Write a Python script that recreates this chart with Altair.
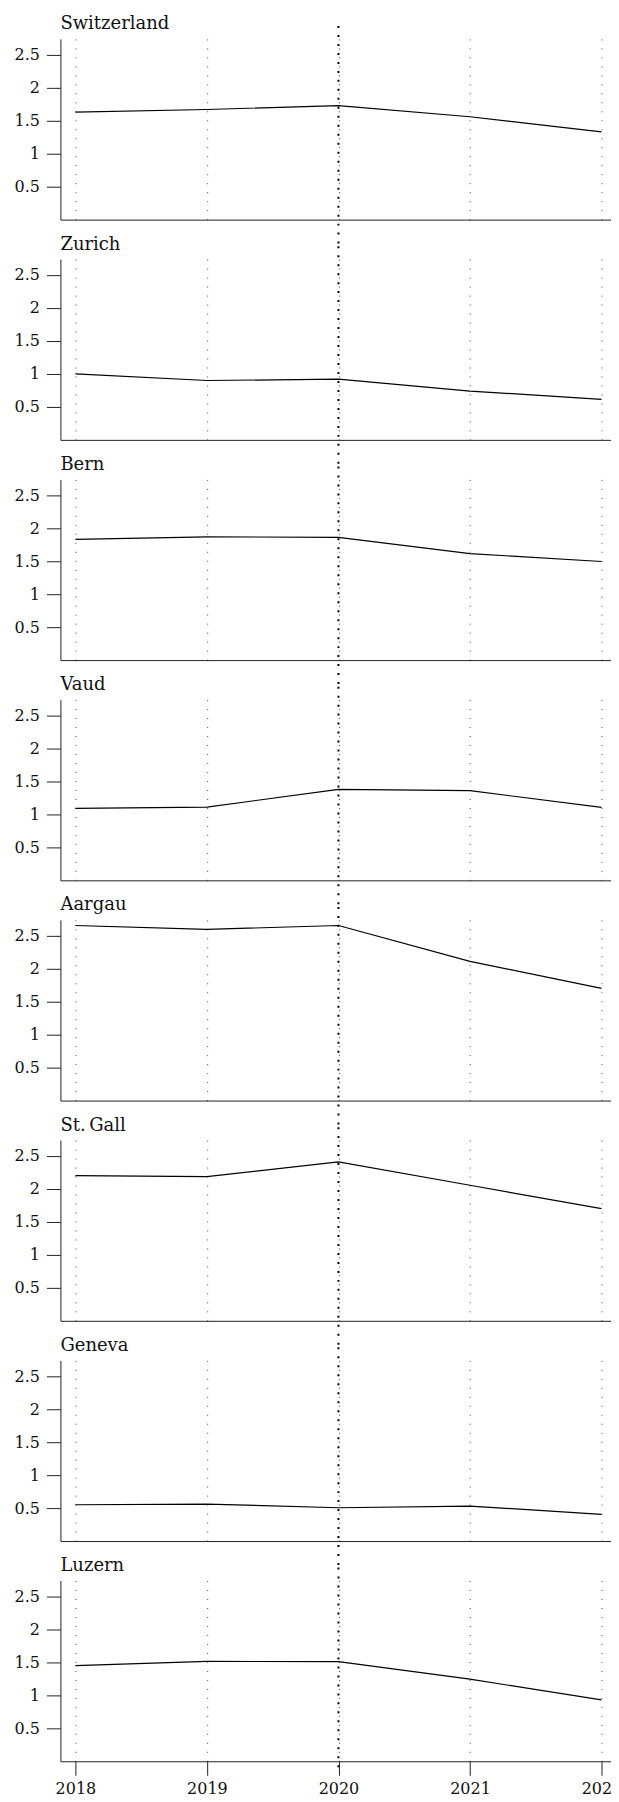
import altair as alt
import pandas as pd

years = [2018, 2019, 2020, 2021, 2022]
regions = ["Switzerland", "Zurich", "Bern", "Vaud", "Aargau", "St.\u2009Gall", "Geneva", "Luzern"]
switzerland = [1.63, 1.67, 1.73, 1.56, 1.33]
zurich = [1.00, 0.90, 0.92, 0.74, 0.615]
bern = [1.83, 1.87, 1.86, 1.615, 1.495]
vaud = [1.09, 1.11, 1.38, 1.36, 1.105]
aargau = [2.655, 2.595, 2.655, 2.11, 1.70]
st_gall = [2.20, 2.185, 2.41, 2.055, 1.70]
geneva = [0.55, 0.56, 0.505, 0.53, 0.405]
luzern = [1.45, 1.515, 1.51, 1.245, 0.93]
series = [switzerland, zurich, bern, vaud, aargau, st_gall, geneva, luzern]
marker_year = [2020]
y_ticks = [0.5, 1, 1.5, 2, 2.5]

W = 557
H = 181
GAP = 39.6
FONT = "DejaVu Serif"
x_domain = [2018 - 15 / 131.75, 2022 + 15 / 131.75]


def panel(name, vals, last):
    df = pd.DataFrame({"year": years, "value": vals})
    x = alt.X(
        "year:Q",
        title=None,
        scale=alt.Scale(domain=x_domain, nice=False, zero=False),
        axis=alt.Axis(
            values=years, format="d", grid=True, gridDash=[1, 8], gridColor="#444",
            gridWidth=1, domainColor="#222", ticks=last, labels=last, tickSize=14,
            tickColor="#222", labelFont=FONT, labelFontSize=16, labelColor="#111",
            labelPadding=5,
        ),
    )
    y = alt.Y(
        "value:Q",
        title=None,
        scale=alt.Scale(domain=[0, 2.74], nice=False),
        axis=alt.Axis(
            values=y_ticks, format=".1~f", grid=False, tickSize=14, tickColor="#222",
            domainColor="#222", labelFont=FONT, labelFontSize=16, labelColor="#111",
            labelPadding=7,
        ),
    )
    line = alt.Chart(df).mark_line(color="black", strokeWidth=1.2).encode(x=x, y=y)
    rule_df = pd.DataFrame({"year": marker_year})
    y2 = H + 12 if last else H + GAP - 13
    rule = alt.Chart(rule_df).mark_rule(
        color="black", strokeWidth=2, strokeDash=[2, 7]
    ).encode(x=alt.X("year:Q"), y=alt.value(-13), y2=alt.value(y2))
    lab = alt.Chart(pd.DataFrame({"name": [name]})).mark_text(
        align="left", baseline="alphabetic", fontSize=18, font=FONT, color="#111"
    ).encode(x=alt.value(0), y=alt.value(-9.5), text="name:N")
    return alt.layer(line, rule, lab).properties(width=W, height=H)


panels = [panel(n, v, i == len(regions) - 1) for i, (n, v) in enumerate(zip(regions, series))]

chart = alt.vconcat(*panels, spacing=GAP, bounds="flush").properties(
    padding={"left": 5.5, "top": 5.5, "right": -11.5, "bottom": 0}
).configure_view(stroke=None)

chart.save("out.html", embed_options={"renderer": "svg", "actions": False})
